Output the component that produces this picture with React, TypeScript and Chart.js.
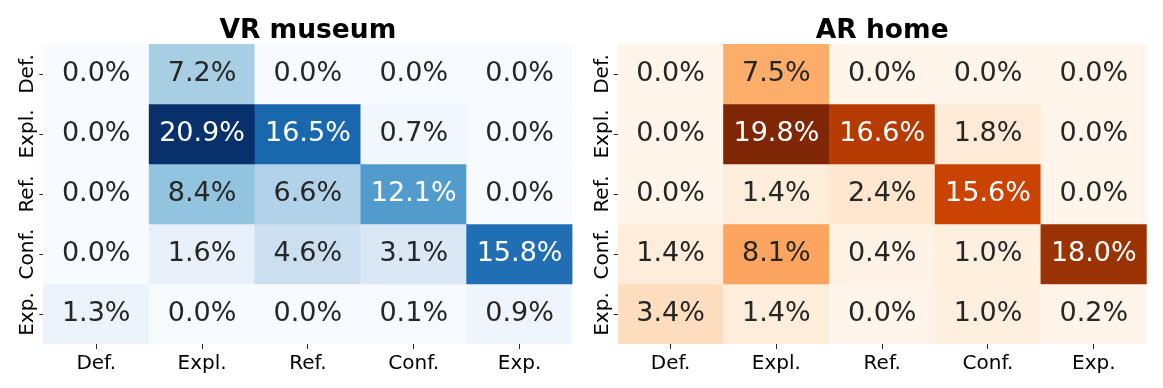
import React, { useEffect, useRef } from 'react';
import { Chart, registerables } from 'chart.js';

Chart.register(...registerables);

// ---- data ----
const xLabels = ['Def.', 'Expl.', 'Ref.', 'Conf.', 'Exp.'];
const yLabels = ['Def.', 'Expl.', 'Ref.', 'Conf.', 'Exp.'];

const vrDef = [0.0, 7.2, 0.0, 0.0, 0.0];
const vrExpl = [0.0, 20.9, 16.5, 0.7, 0.0];
const vrRef = [0.0, 8.4, 6.6, 12.1, 0.0];
const vrConf = [0.0, 1.6, 4.6, 3.1, 15.8];
const vrExp = [1.3, 0.0, 0.0, 0.1, 0.9];

const arDef = [0.0, 7.5, 0.0, 0.0, 0.0];
const arExpl = [0.0, 19.8, 16.6, 1.8, 0.0];
const arRef = [0.0, 1.4, 2.4, 15.6, 0.0];
const arConf = [1.4, 8.1, 0.4, 1.0, 18.0];
const arExp = [3.4, 1.4, 0.0, 1.0, 0.2];

const vrRows = [vrDef, vrExpl, vrRef, vrConf, vrExp];
const arRows = [arDef, arExpl, arRef, arConf, arExp];

// ---- colormaps (matplotlib Blues / Oranges) ----
const BLUES = ['#f7fbff', '#deebf7', '#c6dbef', '#9ecae1', '#6baed6', '#4292c6', '#2171b5', '#08519c', '#08306b'];
const ORANGES = ['#fff5eb', '#fee6ce', '#fdd0a2', '#fdae6b', '#fd8d3c', '#f16913', '#d94801', '#a63603', '#7f2704'];

function hexToRgb(h: string): number[] {
  return [parseInt(h.slice(1, 3), 16), parseInt(h.slice(3, 5), 16), parseInt(h.slice(5, 7), 16)];
}

function cmapRgb(stops: string[], t: number): number[] {
  const tt = Math.max(0, Math.min(1, t));
  const pos = tt * (stops.length - 1);
  const i = Math.min(stops.length - 2, Math.floor(pos));
  const f = pos - i;
  const a = hexToRgb(stops[i]);
  const b = hexToRgb(stops[i + 1]);
  return [0, 1, 2].map((k) => Math.round(a[k] + (b[k] - a[k]) * f));
}

function rgbStr(c: number[]): string {
  return `rgb(${c[0]},${c[1]},${c[2]})`;
}

function luminance(c: number[]): number {
  const lin = c.map((v) => {
    const x = v / 255;
    return x <= 0.03928 ? x / 12.92 : Math.pow((x + 0.055) / 1.055, 2.4);
  });
  return 0.2126 * lin[0] + 0.7152 * lin[1] + 0.0722 * lin[2];
}

const FONT = "'DejaVu Sans', 'Liberation Sans', sans-serif";

interface HeatmapProps {
  title: string;
  rows: number[][];
  stops: string[];
  left: number;
  width: number;
  axisWidth: number;
  padRight: number;
}

function Heatmap({ title, rows, stops, left, width, axisWidth, padRight }: HeatmapProps) {
  const ref = useRef<HTMLCanvasElement>(null);

  useEffect(() => {
    const canvas = ref.current;
    if (!canvas) return;
    const vmax = Math.max(...rows.flat());
    const cellRgb = rows.map((row) => row.map((v) => cmapRgb(stops, v / vmax)));

    const datasets = rows.map((row, r) => ({
      label: yLabels[r],
      data: row.map(() => [r, r + 1] as [number, number]),
      backgroundColor: cellRgb[r].map(rgbStr),
      borderWidth: 0,
      grouped: false,
      barPercentage: 1,
      categoryPercentage: 1,
    }));

    const annotate = {
      id: 'annotate',
      afterDatasetsDraw(chart: any) {
        const ctx = chart.ctx;
        const xs = chart.scales.x;
        const ys = chart.scales.y;
        ctx.save();
        ctx.font = `27px ${FONT}`;
        ctx.textAlign = 'center';
        ctx.textBaseline = 'middle';
        rows.forEach((row, r) => {
          row.forEach((v, c) => {
            const x = xs.getPixelForValue(c);
            const y = ys.getPixelForValue(r + 0.5);
            ctx.fillStyle = luminance(cellRgb[r][c]) > 0.408 ? '#262626' : '#ffffff';
            ctx.fillText(`${v.toFixed(1)}%`, x, y);
          });
        });
        ctx.restore();
      },
    };

    const yTickLabels = {
      id: 'yTickLabels',
      afterDraw(chart: any) {
        const ctx = chart.ctx;
        const ys = chart.scales.y;
        const area = chart.chartArea;
        ctx.save();
        ctx.font = `20px ${FONT}`;
        ctx.fillStyle = '#000000';
        ctx.textAlign = 'center';
        ctx.textBaseline = 'alphabetic';
        yLabels.forEach((lab, r) => {
          const y = ys.getPixelForValue(r + 0.5);
          ctx.save();
          ctx.translate(area.left - 10, y);
          ctx.rotate(-Math.PI / 2);
          ctx.fillText(lab, 0, 0);
          ctx.restore();
        });
        ctx.restore();
      },
    };

    const chart = new Chart(canvas, {
      type: 'bar',
      data: { labels: xLabels, datasets: datasets as any },
      options: {
        responsive: false,
        animation: false,
        layout: { padding: { left: 0, right: padRight, top: 0, bottom: 0 } },
        plugins: {
          legend: { display: false },
          tooltip: { enabled: false },
          title: {
            display: true,
            text: title,
            fullSize: false,
            color: '#000000',
            font: { family: FONT, size: 26.5, weight: 'bold', lineHeight: 1 },
            padding: { top: 17.5, bottom: 0 },
          },
        },
        scales: {
          x: {
            type: 'category',
            offset: true,
            border: { display: false },
            grid: {
              display: true,
              offset: false,
              drawOnChartArea: false,
              drawTicks: true,
              tickLength: 5,
              color: '#262626',
              lineWidth: 1,
            },
            ticks: {
              color: '#000000',
              font: { family: FONT, size: 20 },
              padding: 3,
              minRotation: 0,
              maxRotation: 0,
              autoSkip: false,
            },
            afterFit: (s: any) => {
              s.height = 44;
            },
          },
          y: {
            type: 'linear',
            min: 0,
            max: 5,
            reverse: true,
            border: { display: false },
            grid: {
              display: true,
              drawOnChartArea: false,
              drawTicks: true,
              tickLength: 4,
              color: '#262626',
              lineWidth: 1,
            },
            ticks: { display: false },
            afterBuildTicks: (s: any) => {
              s.ticks = yLabels.map((_, i) => ({ value: i + 0.5 }));
            },
            afterFit: (s: any) => {
              s.width = axisWidth;
            },
          },
        },
      } as any,
      plugins: [annotate, yTickLabels],
    });

    return () => {
      chart.destroy();
    };
  }, [title, rows, stops, axisWidth, padRight]);

  return (
    <canvas
      ref={ref}
      width={width}
      height={388}
      style={{ position: 'absolute', left, top: 0, width, height: 388, display: 'block' }}
    />
  );
}

export default function App() {
  return (
    <div style={{ position: 'absolute', left: 0, top: 0, width: 1163, height: 388, background: '#ffffff' }}>
      <Heatmap title="VR museum" rows={vrRows} stops={BLUES} left={0} width={575} axisWidth={43.3} padRight={2.5} />
      <Heatmap title="AR home" rows={arRows} stops={ORANGES} left={575} width={588} axisWidth={42.7} padRight={16.3} />
    </div>
  );
}
